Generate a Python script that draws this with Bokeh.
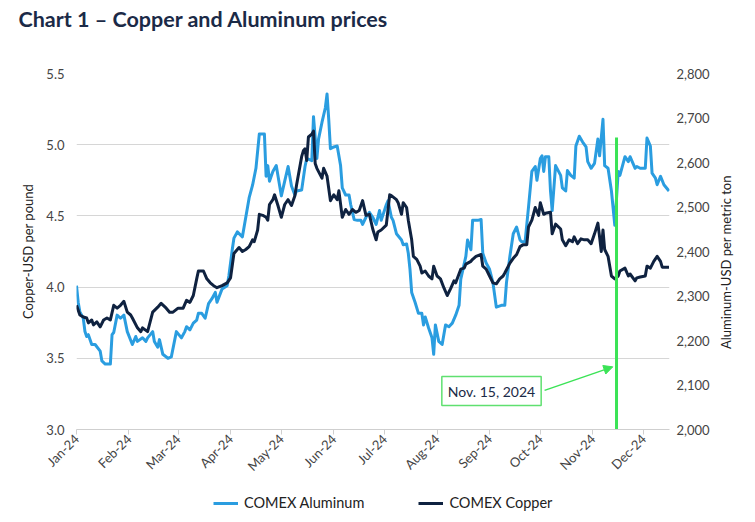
import math
import pandas as pd
from bokeh.plotting import figure
from bokeh.layouts import column, row
from bokeh.models import (Range1d, LinearAxis, FixedTicker, NumeralTickFormatter, Title,
                          Legend, LegendItem, Label, Arrow, NormalHead)
from bokeh.embed import file_html
from bokeh.resources import INLINE

# ---- data: days counted from Jan 1, 2024 ----
cu_days = [0, 2, 4, 6, 7, 9, 10, 12, 14, 16, 18, 20, 22, 24, 26, 28, 30, 32, 33, 36, 38, 39, 42,
           45, 48, 50, 53, 55, 57, 60, 63, 65, 67, 69, 71, 72, 75, 77, 79, 81, 83, 86, 89, 91, 93,
           95, 96, 98, 100, 102, 104, 105, 107, 108, 110, 112, 113, 114, 116, 117, 119, 121, 123,
           125, 127, 129, 130, 133, 134, 135, 136, 137, 139, 140, 141, 142, 145, 146, 148, 150,
           152, 154, 155, 157, 159, 161, 163, 165, 167, 169, 171, 173, 175, 177, 178, 180, 183,
           185, 186, 189, 190, 192, 193, 195, 196, 198, 199, 201, 203, 204, 206, 208, 210, 211,
           213, 215, 217, 219, 221, 223, 224, 227, 229, 230, 233, 234, 236, 239, 240, 242, 244,
           246, 248, 250, 252, 253, 256, 258, 260, 262, 264, 266, 267, 269, 271, 273, 274, 276,
           277, 280, 281, 283, 286, 287, 289, 291, 293, 294, 296, 298, 300, 302, 304, 306, 308,
           309, 310, 311, 312, 314, 316, 318, 320, 321, 324, 326, 327, 330, 331, 333, 336, 337,
           339, 341, 343, 345, 346, 350]
cu_price = [3.872, 3.804, 3.790, 3.783, 3.749, 3.769, 3.735, 3.756, 3.721, 3.769, 3.783, 3.769,
            3.872, 3.852, 3.872, 3.900, 3.824, 3.804, 3.783, 3.714, 3.687, 3.714, 3.687, 3.824,
            3.859, 3.886, 3.852, 3.824, 3.824, 3.852, 3.852, 3.907, 3.893, 3.941, 4.058, 4.113,
            4.113, 4.058, 4.030, 4.010, 3.996, 4.010, 4.030, 4.065, 4.236, 4.264, 4.278, 4.250,
            4.264, 4.284, 4.332, 4.319, 4.401, 4.511, 4.504, 4.490, 4.470, 4.580, 4.614, 4.648,
            4.573, 4.490, 4.580, 4.614, 4.573, 4.642, 4.717, 4.916, 4.957, 4.971, 4.889, 5.054,
            5.074, 5.095, 4.868, 4.834, 4.765, 4.834, 4.779, 4.607, 4.648, 4.614, 4.676, 4.490,
            4.545, 4.511, 4.545, 4.525, 4.538, 4.607, 4.504, 4.511, 4.408, 4.332, 4.387, 4.401,
            4.435, 4.648, 4.642, 4.614, 4.593, 4.511, 4.593, 4.559, 4.470, 4.332, 4.216, 4.195,
            4.147, 4.099, 4.113, 4.078, 4.058, 4.147, 4.078, 4.058, 3.996, 3.941, 3.989, 4.044,
            4.030, 4.126, 4.133, 4.161, 4.181, 4.195, 4.216, 4.229, 4.147, 4.126, 4.078, 4.030,
            4.023, 4.058, 4.078, 4.099, 4.168, 4.202, 4.229, 4.284, 4.298, 4.298, 4.422, 4.470,
            4.559, 4.504, 4.593, 4.511, 4.518, 4.525, 4.374, 4.442, 4.408, 4.332, 4.291, 4.332,
            4.319, 4.353, 4.305, 4.339, 4.332, 4.332, 4.305, 4.374, 4.449, 4.353, 4.250, 4.401,
            4.264, 4.216, 4.078, 4.058, 4.078, 4.113, 4.133, 4.078, 4.092, 4.044, 4.065, 4.071,
            4.078, 4.147, 4.133, 4.181, 4.216, 4.181, 4.140, 4.140]

al_days = [0, 1, 2, 4, 5, 6, 7, 9, 11, 14, 15, 17, 20, 21, 22, 24, 26, 28, 30, 33, 35, 36, 39,
           41, 42, 45, 46, 48, 49, 51, 54, 56, 59, 62, 64, 65, 67, 69, 71, 72, 74, 76, 78, 80, 82,
           83, 86, 89, 90, 92, 93, 95, 98, 99, 102, 104, 106, 108, 111, 112, 113, 114, 116, 118,
           121, 123, 125, 127, 129, 130, 133, 135, 136, 139, 140, 142, 143, 145, 147, 148, 149,
           150, 152, 154, 156, 157, 159, 161, 162, 164, 166, 168, 169, 171, 173, 175, 177, 179,
           180, 183, 184, 186, 187, 189, 192, 193, 195, 196, 197, 198, 200, 202, 204, 205, 206,
           208, 210, 211, 212, 214, 216, 217, 218, 220, 222, 224, 226, 227, 230, 231, 233, 234,
           237, 239, 240, 242, 244, 246, 248, 251, 253, 254, 256, 258, 260, 262, 263, 265, 267,
           269, 271, 272, 274, 275, 276, 277, 279, 280, 281, 283, 286, 287, 289, 290, 292, 294,
           295, 297, 299, 301, 302, 304, 306, 308, 309, 311, 312, 314, 316, 318, 320, 321, 324,
           326, 327, 330, 331, 333, 336, 337, 339, 340, 342, 343, 345, 347, 350]
al_price = [2323, 2286, 2264, 2250, 2220, 2209, 2213, 2191, 2191, 2176, 2154, 2147, 2147, 2213,
            2218, 2257, 2250, 2257, 2220, 2191, 2209, 2198, 2206, 2198, 2206, 2220, 2198, 2185,
            2202, 2169, 2160, 2163, 2220, 2206, 2220, 2231, 2224, 2239, 2246, 2261, 2261, 2250,
            2283, 2294, 2308, 2286, 2316, 2323, 2345, 2404, 2430, 2444, 2433, 2455, 2521, 2549,
            2587, 2664, 2664, 2569, 2593, 2558, 2580, 2593, 2525, 2558, 2591, 2547, 2527, 2536,
            2538, 2591, 2609, 2604, 2703, 2609, 2653, 2690, 2723, 2754, 2697, 2631, 2635, 2637,
            2593, 2543, 2527, 2527, 2505, 2472, 2470, 2470, 2461, 2477, 2488, 2477, 2461, 2492,
            2470, 2505, 2514, 2477, 2470, 2440, 2426, 2415, 2417, 2396, 2360, 2308, 2286, 2261,
            2261, 2235, 2253, 2228, 2206, 2169, 2235, 2198, 2191, 2213, 2235, 2231, 2239, 2257,
            2279, 2338, 2389, 2426, 2404, 2470, 2470, 2472, 2396, 2374, 2360, 2330, 2275, 2279,
            2279, 2330, 2389, 2440, 2455, 2426, 2422, 2422, 2499, 2580, 2591, 2560, 2609, 2615,
            2580, 2613, 2613, 2536, 2492, 2593, 2571, 2543, 2536, 2582, 2571, 2565, 2637, 2659,
            2646, 2635, 2602, 2587, 2598, 2653, 2615, 2697, 2593, 2587, 2536, 2459, 2580, 2571,
            2613, 2602, 2613, 2587, 2591, 2587, 2587, 2655, 2637, 2576, 2565, 2550, 2569, 2550,
            2536]

month_labels = ["Jan-24", "Feb-24", "Mar-24", "Apr-24", "May-24", "Jun-24",
                "Jul-24", "Aug-24", "Sep-24", "Oct-24", "Nov-24", "Dec-24"]
copper_ticks = [3.0, 3.5, 4.0, 4.5, 5.0, 5.5]
aluminum_ticks = [2000, 2100, 2200, 2300, 2400, 2500, 2600, 2700, 2800]
series_names = ["COMEX Aluminum", "COMEX Copper"]
marker_date = "2024-11-15"
marker_text = "Nov. 15, 2024"

# ---- styling ----
AL_COLOR = "#2a9de0"
CU_COLOR = "#0f2240"
GREEN = "#3be356"
NAVY = "#1b2a47"
TICK_COLOR = "#444444"
FONT = "Lato"

start = pd.Timestamp("2024-01-01")
cu_dates = start + pd.to_timedelta(cu_days, unit="D")
al_dates = start + pd.to_timedelta(al_days, unit="D")
month_starts = pd.date_range("2024-01-01", periods=12, freq="MS")
tick_ms = [int(t.value // 10**6) for t in month_starts]

p = figure(width=712, height=482, x_axis_type="datetime", output_backend="svg",
           toolbar_location=None,
           x_range=Range1d(start, start + pd.Timedelta(days=350.3)),
           y_range=Range1d(3.0, 5.5),
           min_border_left=76, min_border_right=40, min_border_top=73, min_border_bottom=45)
p.outline_line_color = None
p.background_fill_color = "white"
p.border_fill_color = "white"
p.extra_y_ranges = {"al": Range1d(2000, 2800)}

# title, lifted off the frame by a blank spacer line
p.title.text = "Chart 1 – Copper and Aluminum prices"
p.title.align = "left"
p.title.offset = -58
p.title.standoff = 2
p.title.text_font = FONT
p.title.text_font_style = "bold"
p.title.text_font_size = "21.5px"
p.title.text_color = NAVY
p.add_layout(Title(text=" ", text_font_size="1px", standoff=38), "above")

# grid
p.xgrid.visible = False
p.ygrid.grid_line_color = "#d6d6d6"
p.ygrid.grid_line_width = 1

# bottom axis
xa = p.xaxis[0]
xa.ticker = FixedTicker(ticks=tick_ms)
xa.major_label_overrides = {ms: lab for ms, lab in zip(tick_ms, month_labels)}
xa.major_label_orientation = 0.785398
xa.axis_line_color = "#cfcfcf"
xa.major_tick_line_color = "#cfcfcf"
xa.major_tick_in = 0
xa.major_tick_out = 5
xa.minor_tick_line_color = None
xa.major_label_text_font = FONT
xa.major_label_text_font_size = "13px"
xa.major_label_text_color = TICK_COLOR
xa.major_label_standoff = 2

# left axis (copper)
ya = p.yaxis[0]
ya.ticker = FixedTicker(ticks=copper_ticks)
ya.formatter = NumeralTickFormatter(format="0.0")
ya.axis_line_color = None
ya.major_tick_line_color = None
ya.minor_tick_line_color = None
ya.major_label_text_font = FONT
ya.major_label_text_font_size = "13px"
ya.major_label_text_color = TICK_COLOR
ya.major_label_standoff = 6
ya.axis_label = "Copper-USD per pound"
ya.axis_label_text_font = FONT
ya.axis_label_text_font_style = "normal"
ya.axis_label_text_font_size = "13px"
ya.axis_label_text_color = "#222222"
ya.axis_label_standoff = 7

# right axis (aluminum); its title is drawn in the side strip
ra = LinearAxis(y_range_name="al", ticker=FixedTicker(ticks=aluminum_ticks),
                formatter=NumeralTickFormatter(format="0,0"))
ra.axis_line_color = None
ra.major_tick_line_color = None
ra.minor_tick_line_color = None
ra.major_label_text_font = FONT
ra.major_label_text_font_size = "13px"
ra.major_label_text_color = TICK_COLOR
ra.major_label_standoff = 1
p.add_layout(ra, "right")

# series
r_al = p.line(al_dates, al_price, y_range_name="al", line_color=AL_COLOR, line_width=3,
              line_join="round")
r_cu = p.line(cu_dates, cu_price, line_color=CU_COLOR, line_width=3, line_join="round")

# marker for the highlighted date
mdate = pd.Timestamp(marker_date)
p.segment(x0=[mdate], y0=[5.05], x1=[mdate], y1=[2.98], line_color=GREEN, line_width=3)

note = Label(x=415, y=38.5, x_units="screen", y_units="screen", text=marker_text,
             text_font=FONT, text_font_size="14px", text_color=NAVY,
             text_align="center", text_baseline="middle",
             border_line_color="#5fe070", border_line_width=1.5,
             background_fill_color="white", padding=6)
p.add_layout(note)
p.add_layout(Arrow(x_start=start + pd.Timedelta(days=276.5), y_start=3.275,
                   x_end=mdate - pd.Timedelta(days=2.2), y_end=3.44,
                   line_color=GREEN, line_width=1.5,
                   end=NormalHead(size=9, fill_color=GREEN, line_color=GREEN)))


def strip(width, height):
    s = figure(width=width, height=height, output_backend="svg", toolbar_location=None,
               x_range=Range1d(0, 1), y_range=Range1d(0, 1),
               min_border_left=0, min_border_right=0, min_border_top=0, min_border_bottom=0)
    s.axis.visible = False
    s.grid.visible = False
    s.outline_line_color = None
    s.background_fill_color = "white"
    s.border_fill_color = "white"
    return s


# side strip holding the aluminum axis title, reading bottom to top
side = strip(43, 482)
side.add_layout(Label(x=0.32, y=0.47, text="Aluminum-USD per metric ton", angle=math.pi / 2,
                      text_align="center", text_baseline="middle", text_font=FONT,
                      text_font_size="13px", text_color="#222222"))

# legend strip below the chart
lf = strip(755, 40)
# sample lines sit outside the visible range; only their legend swatches show
k_al = lf.line([2, 3], [2, 3], line_color=AL_COLOR, line_width=3)
k_cu = lf.line([2, 3], [2, 3], line_color=CU_COLOR, line_width=3)
legend = Legend(items=[LegendItem(label=series_names[0], renderers=[k_al]),
                       LegendItem(label=series_names[1], renderers=[k_cu])],
                orientation="horizontal", location=(213, 11),
                border_line_color=None, background_fill_alpha=0,
                padding=0, margin=0, spacing=54, glyph_width=25, glyph_height=16,
                label_standoff=6, label_text_font=FONT, label_text_font_size="14.5px",
                label_text_color="#222222")
lf.add_layout(legend)

page = column(row(p, side, spacing=0), lf, spacing=0)
open("out.html", "w").write(file_html(page, INLINE))
